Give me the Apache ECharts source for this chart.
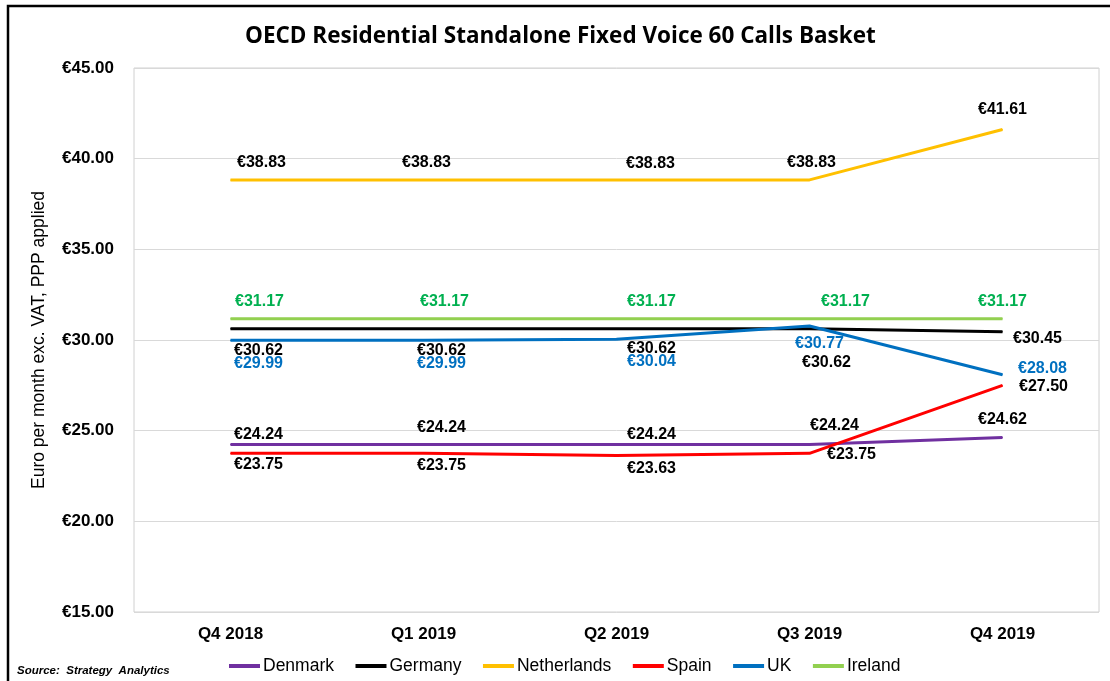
<!DOCTYPE html>
<html>
<head>
<meta charset="utf-8">
<script src="https://cdn.jsdelivr.net/npm/echarts@6/dist/echarts.min.js"></script>
<style>
  html, body { margin: 0; padding: 0; background: #fff; }
  #chart { width: 1110px; height: 681px; }
</style>
</head>
<body>
<div id="chart"></div>
<script>
var categories = ['Q4 2018', 'Q1 2019', 'Q2 2019', 'Q3 2019', 'Q4 2019'];
var denmark = [24.24, 24.24, 24.24, 24.24, 24.62];
var germany = [30.62, 30.62, 30.62, 30.62, 30.45];
var netherlands = [38.83, 38.83, 38.83, 38.83, 41.61];
var spain = [23.75, 23.75, 23.63, 23.75, 27.50];
var uk = [29.99, 29.99, 30.04, 30.77, 28.08];
var ireland = [31.17, 31.17, 31.17, 31.17, 31.17];

// horizontal nudge of the data labels, per quarter
var shiftX = [28, 18, 35, 36, 0];
var font = 'Liberation Sans, Arial, sans-serif';

function points(values, color, base, extra) {
	return values.map(function(v, i) {
		var lab = {
			show: true,
			color: color,
			fontFamily: font,
			fontWeight: 'bold',
			fontSize: 16,
			offset: [shiftX[i], 0],
			formatter: function(p) { return '€' + p.value.toFixed(2); }
		};
		Object.assign(lab, base, extra[i] || {});
		return { value: v, label: lab };
	});
}

function line(name, color, data) {
	return {
		name: name,
		type: 'line',
		data: data,
		symbol: 'circle',
		symbolSize: 1,
		lineStyle: { color: color, width: 3 },
		itemStyle: { color: color },
		emphasis: { disabled: true }
	};
}

var dom = document.getElementById('chart');
var myChart = echarts.init(dom);
var option = {
	backgroundColor: '#fff',
	animation: false,
	title: {
		text: 'OECD Residential Standalone Fixed Voice 60 Calls Basket',
		left: 240,
		top: 20,
		textStyle: { fontFamily: 'Open Sans, sans-serif', fontWeight: 'bold', fontSize: 22.5, color: '#000' }
	},
	graphic: [
		{ type: 'rect', shape: { x: 8, y: 6, width: 1200, height: 800 }, style: { fill: 'none', stroke: '#000', lineWidth: 2.5 }, silent: true },
		{ type: 'text', left: 17, top: 665, style: { text: 'Source:  Strategy  Analytics', fontFamily: font, fontStyle: 'italic', fontWeight: 'bold', fontSize: 11.5, fill: '#000' } }
	],
	legend: {
		data: ['Denmark', 'Germany', 'Netherlands', 'Spain', 'UK', 'Ireland'],
		left: 224,
		top: 652,
		icon: 'rect',
		itemWidth: 31,
		itemHeight: 4,
		itemGap: 21.5,
		textStyle: { fontFamily: font, fontSize: 17.5, color: '#000', padding: [0, 0, 0, -2] }
	},
	grid: {
		left: 134,
		right: 11,
		top: 68,
		bottom: 69,
		show: true,
		borderColor: '#d0d0d0',
		borderWidth: 1
	},
	xAxis: {
		type: 'category',
		data: categories,
		boundaryGap: true,
		axisLine: { show: false },
		axisTick: { show: false },
		axisLabel: { margin: 14, fontFamily: font, fontWeight: 'bold', fontSize: 17, color: '#000' }
	},
	yAxis: {
		type: 'value',
		min: 15,
		max: 45,
		interval: 5,
		name: 'Euro per month exc. VAT, PPP applied',
		nameLocation: 'middle',
		nameGap: 86,
		nameTextStyle: { fontFamily: font, fontSize: 17.5, color: '#000' },
		axisLine: { show: false },
		axisTick: { show: false },
		splitLine: { lineStyle: { color: '#d9d9d9', width: 1 } },
		axisLabel: {
			margin: 20,
			fontFamily: font,
			fontWeight: 'bold',
			fontSize: 17,
			color: '#000',
			formatter: function(v) { return '€' + v.toFixed(2); }
		}
	},
	series: [
		line('Denmark', '#7030a0', points(denmark, '#000', { position: 'top', distance: 1 }, {
			1: { distance: 8 }, 3: { distance: 10, offset: [25, 0] }, 4: { distance: 9 }
		})),
		line('Germany', '#000000', points(germany, '#000', { position: 'bottom', distance: 13 }, {
			2: { distance: 11 }, 3: { distance: 25, offset: [17, 0] }, 4: { position: 'right', distance: 10, offset: [0, 7] }
		})),
		line('Netherlands', '#ffc000', points(netherlands, '#000', { position: 'top', distance: 9 }, {
			0: { offset: [31, 0] }, 1: { offset: [3, 0] }, 2: { offset: [34, 1] }, 3: { offset: [2, 0] }, 4: { distance: 11 }
		})),
		line('Spain', '#ff0000', points(spain, '#000', { position: 'bottom', distance: 3 }, {
			1: { distance: 4 }, 2: { distance: 5 }, 3: { position: 'right', distance: 17, offset: [0, 1] }, 4: { position: 'right', distance: 16, offset: [0, 1] }
		})),
		line('UK', '#0070c0', points(uk, '#0070c0', { position: 'bottom', distance: 15 }, {
			2: { distance: 14 }, 3: { distance: 9, offset: [10, 0] }, 4: { position: 'right', distance: 15, offset: [0, -6] }
		})),
		line('Ireland', '#92d050', points(ireland, '#00b050', { position: 'top', distance: 9 }, {
			0: { offset: [29, 0] }, 1: { offset: [21, 0] }
		}))
	]
};

if (option && typeof option === "object") {
	myChart.setOption(option, true);
}
</script>
</body>
</html>
